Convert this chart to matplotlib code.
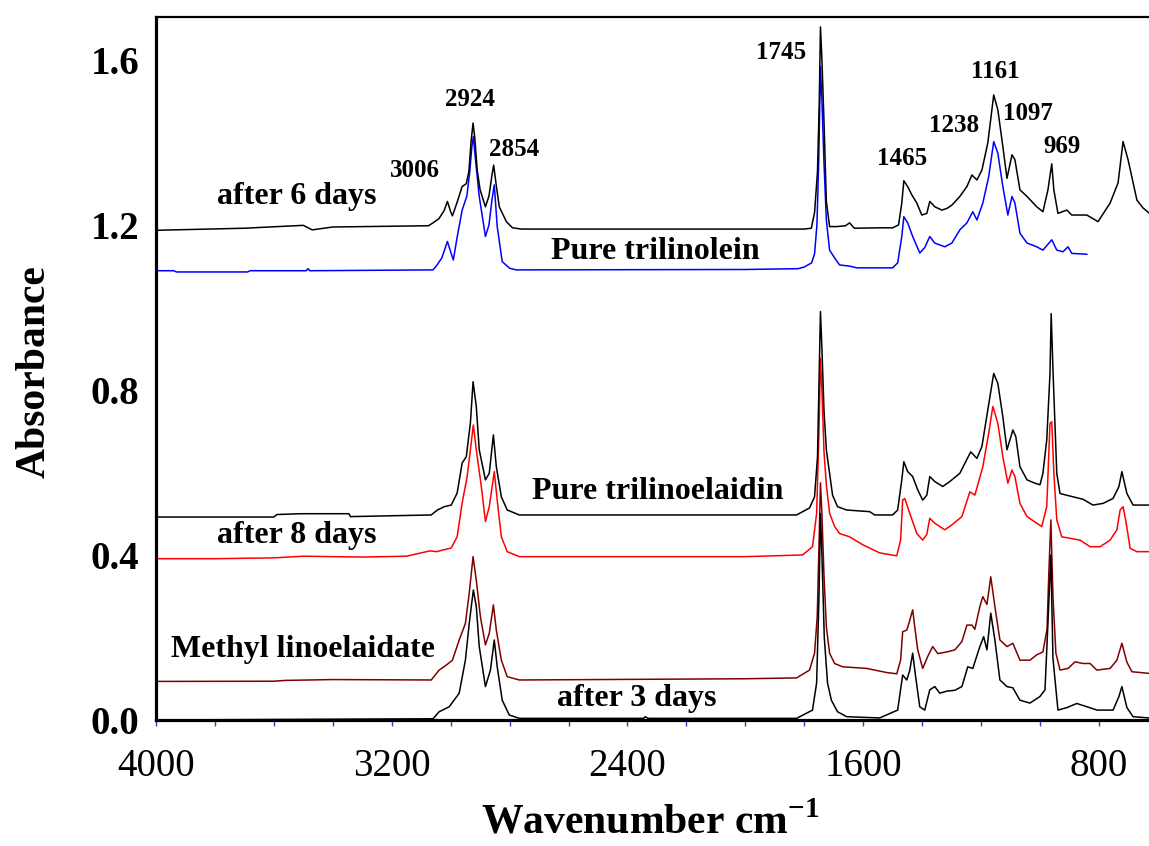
import matplotlib
matplotlib.use('Agg')
import matplotlib.pyplot as plt
from matplotlib.ticker import FixedLocator, NullFormatter

plt.rcParams['font.family'] = ['Liberation Serif', 'DejaVu Serif']
plt.rcParams['mathtext.fontset'] = 'custom'
plt.rcParams['mathtext.rm'] = 'Liberation Serif'
plt.rcParams['mathtext.bf'] = 'Liberation Serif:bold'

# ---------------- data (wavenumber cm-1, absorbance) ----------------
wn_6d = [4000, 3700, 3500, 3470, 3400, 3075, 3060, 3040, 3022, 3011, 3000, 2994, 2978, 2961, 2947,
         2938, 2931, 2924, 2918, 2910, 2900, 2882, 2870, 2860, 2854, 2846, 2835, 2811, 2790, 2760,
         2400, 1800, 1776, 1765, 1755, 1749, 1745, 1740, 1733, 1725, 1714, 1690, 1660, 1646, 1630,
         1544, 1500, 1480, 1469, 1462, 1449, 1435, 1418, 1401, 1384, 1374, 1357, 1333, 1316, 1299,
         1272, 1248, 1231, 1214, 1197, 1177, 1157, 1143, 1126, 1112, 1095, 1085, 1068, 1044, 1011,
         990, 973, 960, 953, 939, 909, 892, 841, 803, 762, 735, 718, 701, 671, 650, 630]
abs_6d = [1.187, 1.192, 1.199, 1.188, 1.195, 1.198, 1.205, 1.215, 1.235, 1.257, 1.232, 1.222, 1.255, 1.293, 1.300,
          1.330, 1.400, 1.447, 1.410, 1.333, 1.285, 1.244, 1.270, 1.320, 1.345, 1.300, 1.244, 1.208, 1.193, 1.190,
          1.190, 1.190, 1.192, 1.230, 1.330, 1.500, 1.680, 1.600, 1.450, 1.257, 1.196, 1.196, 1.198, 1.205, 1.192,
          1.193, 1.193, 1.200, 1.253, 1.307, 1.293, 1.273, 1.253, 1.224, 1.228, 1.257, 1.244, 1.236, 1.240, 1.248,
          1.269, 1.293, 1.321, 1.309, 1.333, 1.399, 1.515, 1.479, 1.390, 1.313, 1.370, 1.358, 1.285, 1.269, 1.244,
          1.232, 1.285, 1.348, 1.285, 1.228, 1.236, 1.224, 1.224, 1.208, 1.253, 1.302, 1.402, 1.358, 1.260, 1.241, 1.229]

wn_tln = [4000, 3940, 3930, 3690, 3680, 3490, 3484, 3478, 3060, 3049, 3030, 3018, 3011, 3000, 2991,
          2978, 2961, 2945, 2935, 2928, 2923, 2916, 2903, 2882, 2870, 2860, 2852, 2842, 2825, 2800,
          2777, 2000, 1820, 1800, 1775, 1765, 1757, 1751, 1745, 1740, 1733, 1725, 1714, 1697, 1680,
          1645, 1622, 1500, 1483, 1469, 1462, 1449, 1432, 1408, 1391, 1374, 1357, 1323, 1299, 1272,
          1248, 1228, 1214, 1194, 1174, 1157, 1143, 1126, 1109, 1095, 1085, 1068, 1044, 1011, 990,
          960, 943, 922, 905, 892, 841]
abs_tln = [1.089, 1.089, 1.086, 1.086, 1.089, 1.089, 1.094, 1.089, 1.091, 1.100, 1.120, 1.145, 1.160, 1.135, 1.115,
           1.170, 1.236, 1.270, 1.330, 1.390, 1.414, 1.360, 1.269, 1.172, 1.200, 1.260, 1.297, 1.196, 1.111, 1.095,
           1.091, 1.092, 1.094, 1.098, 1.108, 1.130, 1.200, 1.350, 1.584, 1.500, 1.350, 1.212, 1.139, 1.120, 1.103,
           1.100, 1.096, 1.096, 1.108, 1.172, 1.220, 1.205, 1.172, 1.132, 1.145, 1.172, 1.156, 1.147, 1.156, 1.188,
           1.205, 1.232, 1.212, 1.253, 1.317, 1.402, 1.374, 1.293, 1.224, 1.269, 1.253, 1.180, 1.156, 1.147, 1.139,
           1.164, 1.139, 1.135, 1.147, 1.131, 1.129]

wn_tle = [4000, 3600, 3590, 3510, 3345, 3340, 3066, 3045, 3022, 2998, 2978, 2961, 2947, 2933, 2924,
          2913, 2903, 2882, 2869, 2855, 2845, 2828, 2808, 2767, 1826, 1782, 1765, 1755, 1749, 1745,
          1740, 1733, 1725, 1714, 1704, 1687, 1656, 1578, 1561, 1500, 1483, 1469, 1462, 1449, 1432,
          1415, 1398, 1384, 1374, 1357, 1330, 1306, 1272, 1255, 1235, 1214, 1197, 1177, 1157, 1143,
          1126, 1112, 1092, 1082, 1068, 1044, 1017, 1000, 990, 977, 966, 962, 956, 943, 932,
          888, 854, 820, 786, 752, 732, 722, 705, 684, 630]
abs_tle = [0.492, 0.492, 0.498, 0.500, 0.500, 0.493, 0.497, 0.509, 0.517, 0.521, 0.550, 0.623, 0.638, 0.720, 0.820,
           0.760, 0.655, 0.582, 0.598, 0.691, 0.614, 0.541, 0.509, 0.497, 0.497, 0.514, 0.541, 0.638, 0.850, 0.990,
           0.900, 0.750, 0.655, 0.598, 0.545, 0.517, 0.509, 0.505, 0.497, 0.497, 0.509, 0.582, 0.626, 0.602, 0.590,
           0.558, 0.533, 0.545, 0.590, 0.578, 0.566, 0.578, 0.598, 0.622, 0.650, 0.634, 0.663, 0.752, 0.840, 0.816,
           0.735, 0.655, 0.703, 0.687, 0.614, 0.582, 0.574, 0.570, 0.598, 0.679, 0.840, 0.985, 0.850, 0.598, 0.549,
           0.541, 0.535, 0.521, 0.525, 0.537, 0.566, 0.602, 0.549, 0.521, 0.521]

wn_8d = [4000, 3800, 3600, 3500, 3300, 3150, 3070, 3049, 2998, 2978, 2961, 2944, 2923, 2913, 2896,
         2882, 2869, 2852, 2842, 2828, 2808, 2767, 2000, 1806, 1772, 1758, 1750, 1745, 1740, 1733,
         1725, 1714, 1697, 1680, 1646, 1602, 1544, 1486, 1473, 1466, 1459, 1442, 1418, 1398, 1384,
         1374, 1357, 1323, 1299, 1265, 1238, 1221, 1194, 1174, 1160, 1143, 1126, 1109, 1095, 1085,
         1068, 1044, 1011, 994, 977, 966, 960, 953, 943, 926, 864, 830, 796, 762, 739,
         728, 718, 708, 694, 671, 630]
abs_8d = [0.391, 0.391, 0.393, 0.397, 0.395, 0.397, 0.410, 0.408, 0.417, 0.444, 0.526, 0.590, 0.715, 0.655, 0.566,
          0.481, 0.517, 0.602, 0.533, 0.444, 0.408, 0.396, 0.396, 0.400, 0.420, 0.501, 0.700, 0.877, 0.800, 0.650,
          0.570, 0.501, 0.469, 0.452, 0.444, 0.425, 0.405, 0.398, 0.436, 0.533, 0.537, 0.501, 0.452, 0.436, 0.450,
          0.489, 0.477, 0.461, 0.473, 0.493, 0.553, 0.545, 0.614, 0.695, 0.760, 0.719, 0.638, 0.574, 0.606, 0.590,
          0.525, 0.493, 0.477, 0.469, 0.517, 0.719, 0.723, 0.600, 0.485, 0.444, 0.436, 0.420, 0.420, 0.436, 0.461,
          0.509, 0.517, 0.480, 0.416, 0.408, 0.408]

wn_ml = [4000, 3600, 3560, 3400, 3066, 3039, 3015, 2994, 2971, 2950, 2937, 2924, 2913, 2899, 2882,
         2869, 2855, 2845, 2828, 2808, 2767, 2000, 1826, 1782, 1765, 1756, 1749, 1745, 1740, 1733,
         1725, 1714, 1697, 1670, 1588, 1520, 1486, 1473, 1466, 1452, 1445, 1432, 1425, 1415, 1398,
         1381, 1364, 1347, 1316, 1289, 1265, 1248, 1231, 1221, 1204, 1194, 1180, 1167, 1153, 1136,
         1112, 1092, 1068, 1034, 1011, 990, 976, 970, 963, 956, 946, 932, 905, 881, 854,
         830, 807, 762, 739, 722, 705, 688, 630]
abs_ml = [0.0935, 0.094, 0.096, 0.098, 0.097, 0.121, 0.133, 0.145, 0.194, 0.234, 0.307, 0.396, 0.339, 0.250, 0.182,
          0.210, 0.279, 0.218, 0.145, 0.105, 0.097, 0.100, 0.102, 0.121, 0.162, 0.250, 0.450, 0.575, 0.500, 0.350,
          0.226, 0.162, 0.137, 0.129, 0.125, 0.115, 0.112, 0.145, 0.214, 0.218, 0.234, 0.267, 0.226, 0.170, 0.125,
          0.154, 0.178, 0.161, 0.165, 0.170, 0.190, 0.230, 0.230, 0.220, 0.275, 0.299, 0.280, 0.347, 0.275, 0.194,
          0.178, 0.186, 0.145, 0.145, 0.158, 0.165, 0.220, 0.356, 0.485, 0.300, 0.162, 0.121, 0.125, 0.141, 0.137,
          0.137, 0.121, 0.125, 0.145, 0.186, 0.140, 0.117, 0.113]

wn_3d = [4000, 3060, 3039, 3005, 2971, 2950, 2937, 2923, 2913, 2903, 2882, 2865, 2852, 2842, 2825,
         2801, 2767, 2345, 2340, 2330, 1826, 1772, 1758, 1750, 1745, 1740, 1732, 1721, 1708, 1687,
         1656, 1544, 1483, 1466, 1452, 1442, 1432, 1422, 1408, 1391, 1374, 1357, 1340, 1316, 1289,
         1265, 1245, 1228, 1204, 1191, 1180, 1167, 1153, 1136, 1112, 1092, 1068, 1034, 1000, 983,
         973, 963, 956, 939, 909, 875, 840, 806, 752, 732, 722, 705, 684, 630]
abs_3d = [0.000, 0.003, 0.020, 0.032, 0.065, 0.145, 0.234, 0.315, 0.275, 0.178, 0.081, 0.121, 0.194, 0.129, 0.048,
          0.012, 0.004, 0.004, 0.008, 0.004, 0.004, 0.024, 0.090, 0.300, 0.500, 0.400, 0.200, 0.090, 0.048, 0.020,
          0.008, 0.005, 0.024, 0.109, 0.097, 0.120, 0.162, 0.105, 0.032, 0.024, 0.073, 0.081, 0.065, 0.070, 0.072,
          0.081, 0.129, 0.125, 0.178, 0.202, 0.170, 0.259, 0.194, 0.097, 0.081, 0.078, 0.048, 0.041, 0.057, 0.073,
          0.235, 0.400, 0.150, 0.024, 0.030, 0.040, 0.032, 0.024, 0.024, 0.057, 0.081, 0.030, 0.008, 0.005]

x_ticks = [4000, 3200, 2400, 1600, 800]
y_ticks = [0.0, 0.4, 0.8, 1.2, 1.6]

peak_labels = ['3006', '2924', '2854', '1745', '1465', '1238', '1161', '1097', '969']
peak_label_x = [3120, 2933, 2784, 1877, 1469, 1293, 1153, 1041, 926]
peak_label_y = [1.331, 1.503, 1.382, 1.619, 1.362, 1.442, 1.571, 1.469, 1.389]

series_labels = ['after 6 days', 'Pure trilinolein', 'Pure trilinoelaidin',
                 'after 8 days', 'Methyl linoelaidate', 'after 3 days']
series_label_x = [3521, 2305, 2298, 3521, 3501, 2369]
series_label_y = [1.268, 1.135, 0.553, 0.448, 0.170, 0.053]

# ---------------- figure ----------------
W, H = 1149, 846
fig = plt.figure(figsize=(W / 100, H / 100), dpi=100)
ax = fig.add_axes([156 / W, (H - 720) / H, 1 - 156 / W, (720 - 17) / H])

lw = 1.1
ax.plot(wn_tln, abs_tln, color='#0000ff', lw=lw)
ax.plot(wn_6d, abs_6d, color='black', lw=lw)
ax.plot(wn_8d, abs_8d, color='#ff0000', lw=lw)
ax.plot(wn_tle, abs_tle, color='black', lw=lw)
ax.plot(wn_ml, abs_ml, color='#800000', lw=lw)
ax.plot(wn_3d, abs_3d, color='black', lw=lw)

ax.set_xlim(4000, 630)
ax.set_ylim(0, 1.704)

ax.spines['right'].set_visible(False)
ax.spines['left'].set_linewidth(2.3)
ax.spines['bottom'].set_linewidth(2.3)
ax.spines['top'].set_linewidth(1.6)

ax.xaxis.set_major_locator(FixedLocator(x_ticks))
ax.xaxis.set_minor_locator(FixedLocator(list(range(800, 4001, 200))))
ax.xaxis.set_minor_formatter(NullFormatter())
ax.set_xticklabels([str(v) for v in x_ticks])
ax.tick_params(axis='x', which='both', direction='out', length=4, width=1,
               color='#3040d0', pad=16, labelsize=28, labelcolor='black')
ax.set_yticks(y_ticks)
ax.set_yticklabels([f'{v:.1f}' for v in y_ticks])
ax.tick_params(axis='y', length=0, pad=12, labelsize=28)
for t in ax.get_yticklabels():
    t.set_fontweight('bold')

fig.text(35 / W, 1 - 372 / H, 'Absorbance', rotation=90, ha='center', va='center',
         fontsize=30, fontweight='bold')
fig.text(650 / W, 1 - 823 / H, r'Wavenumber cm$^{\mathbf{-1}}$', ha='center', va='center',
         fontsize=30, fontweight='bold')

for lab, x, y in zip(peak_labels, peak_label_x, peak_label_y):
    ax.text(x, y, lab, ha='center', va='center', fontsize=18, fontweight='bold')

for lab, x, y in zip(series_labels, series_label_x, series_label_y):
    ax.text(x, y, lab, ha='center', va='center', fontsize=23, fontweight='bold')

fig.savefig('out.png', dpi=100)
